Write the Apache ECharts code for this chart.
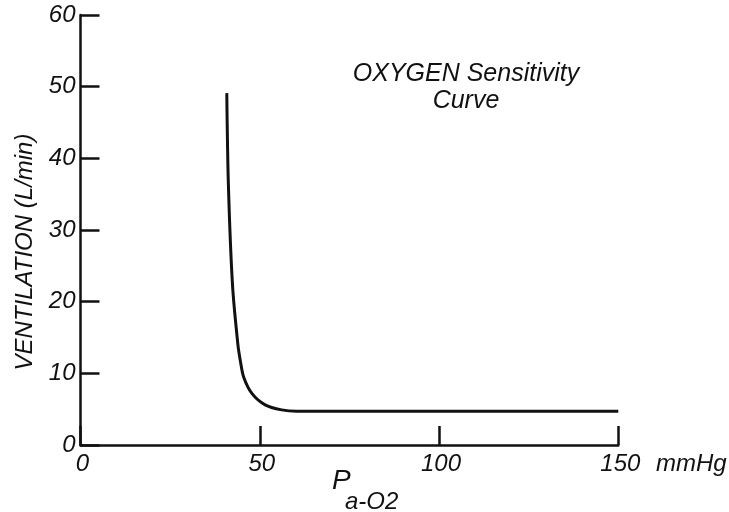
<!DOCTYPE html>
<html>
<head>
<meta charset="utf-8">
<script src="https://cdn.jsdelivr.net/npm/echarts@6/dist/echarts.min.js"></script>
<style>
  html, body { margin: 0; padding: 0; background: #fff; }
  #chart { width: 729px; height: 512px; }
</style>
</head>
<body>
<div id="chart"></div>
<script>
// 氧敏感曲线 PaO2 (mmHg) vs ventilation (L/min)
var pao2 = [40.8, 41.25, 42.4, 43.9, 44.6, 45.5, 47.8, 51.5, 56.1, 60.3, 150];
var ventilation = [49.1, 36.3, 22.3, 14.0, 11.7, 9.5, 7.2, 5.6, 4.9, 4.7, 4.7];
var xTicks = [0, 50, 100, 150];
var yTicks = [0, 10, 20, 30, 40, 50, 60];

var font = "'Liberation Sans', Arial, sans-serif";
var ink = "#111";

var myChart = echarts.init(document.getElementById("chart"));
var options = {
  animation: false,
  grid: {
    left: 80.5,
    right: 110.7,
    top: 15,
    bottom: 67,
  },
  xAxis: {
    type: "value",
    min: xTicks[0],
    max: xTicks[xTicks.length - 1],
    interval: xTicks[1] - xTicks[0],
    axisLine: { lineStyle: { color: ink, width: 2.5 } },
    axisTick: { inside: true, length: 19, lineStyle: { color: ink, width: 2.5 } },
    axisLabel: {
      margin: 7,
      color: ink,
      fontFamily: font,
      fontStyle: "italic",
      fontSize: 24,
      padding: [0, 0, 0, 4],
    },
    splitLine: { show: false },
  },
  yAxis: {
    type: "value",
    min: yTicks[0],
    max: yTicks[yTicks.length - 1],
    interval: yTicks[1] - yTicks[0],
    axisLine: { show: true, lineStyle: { color: ink, width: 2.5 } },
    axisTick: { show: true, inside: true, length: 19, lineStyle: { color: ink, width: 2.5 } },
    axisLabel: {
      margin: 5,
      color: ink,
      fontFamily: font,
      fontStyle: "italic",
      fontSize: 24,
    },
    splitLine: { show: false },
  },
  graphic: [
    {
      type: "text",
      x: 25,
      y: 252,
      rotation: Math.PI / 2,
      style: {
        text: "VENTILATION (L/min)",
        fill: ink,
        font: "italic 24px " + font,
        textAlign: "center",
        textVerticalAlign: "middle",
      },
    },
    {
      type: "text",
      x: 466,
      y: 88,
      style: {
        text: "OXYGEN Sensitivity\nCurve",
        fill: ink,
        font: "italic 25px " + font,
        lineHeight: 27,
        textAlign: "center",
        textVerticalAlign: "middle",
      },
    },
    {
      type: "text",
      x: 656,
      y: 464,
      style: {
        text: "mmHg",
        fill: ink,
        font: "italic 24px " + font,
        textAlign: "left",
        textVerticalAlign: "middle",
      },
    },
    {
      type: "text",
      x: 332,
      y: 481,
      style: {
        text: "P",
        fill: ink,
        font: "italic 28px " + font,
        textAlign: "left",
        textVerticalAlign: "middle",
      },
    },
    {
      type: "text",
      x: 345,
      y: 502,
      style: {
        text: "a-O2",
        fill: ink,
        font: "italic 24px " + font,
        textAlign: "left",
        textVerticalAlign: "middle",
      },
    },
  ],
  series: [
    {
      type: "line",
      data: pao2.map(function (x, i) {
        return [x, ventilation[i]];
      }),
      smooth: 0.3,
      showSymbol: false,
      lineStyle: { color: ink, width: 3 },
    },
  ],
};
myChart.setOption(options);
</script>
</body>
</html>
